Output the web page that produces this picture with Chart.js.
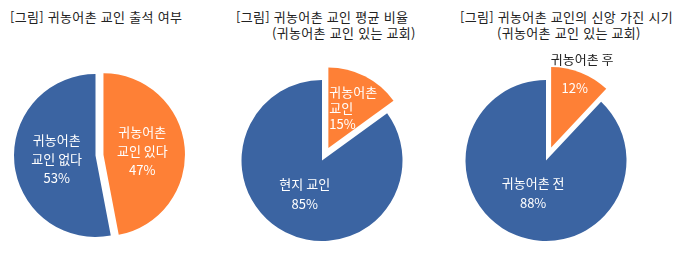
<!DOCTYPE html>
<html lang="ko">
<head>
<meta charset="utf-8">
<script src="https://cdn.jsdelivr.net/npm/chart.js@4/dist/chart.umd.min.js"></script>
<style>
  html, body { margin: 0; padding: 0; background: #fff; }
  body { width: 677px; height: 256px; position: relative; overflow: hidden; font-family: "Noto Sans CJK KR", sans-serif; }
  .title { position: absolute; font-size: 13px; line-height: 16px; color: #222; white-space: nowrap; letter-spacing: 0.3px; }
  .box { position: absolute; }
</style>
</head>
<body>
<div class="title" style="left:10px; top:9px">[그림] 귀농어촌 교인 출석 여부</div>
<div class="title" style="left:236px; top:9px">[그림] 귀농어촌 교인 평균 비율</div>
<div class="title" style="left:272px; top:25px">(귀농어촌 교인 있는 교회)</div>
<div class="title" style="left:460px; top:9px">[그림] 귀농어촌 교인의 신앙 가진 시기</div>
<div class="title" style="left:497px; top:25px">(귀농어촌 교인 있는 교회)</div>

<div class="box" style="left:0px; top:56px; width:191px; height:199px"><canvas id="attend"></canvas></div>
<div class="box" style="left:227px; top:54px; width:190px; height:213px"><canvas id="ratio"></canvas></div>
<div class="box" style="left:451px; top:54px; width:190px; height:213px"><canvas id="faith"></canvas></div>

<script>
// 차트 데이터
const attendCats = ["귀농어촌\n교인 있다", "귀농어촌\n교인 없다"];
const attendVals = [47, 53];

const ratioCats = ["귀농어촌\n교인", "현지 교인"];
const ratioVals = [15, 85];

const faithCats = ["귀농어촌 후", "귀농어촌 전"];
const faithVals = [12, 88];

const ORANGE = "#fe8036";
const BLUE = "#3b64a2";

// 조각을 반지름 그대로 바깥으로 밀어서 그림 (기본 offset은 반지름이 커짐)
const sliceShift = {
  id: "sliceShift",
  beforeDatasetDraw(chart, args, opts) {
    const ctx = chart.ctx;
    args.meta.data.forEach((arc, i) => {
      const s = opts.shift[i] || 0;
      const { startAngle, endAngle } = arc.getProps(["startAngle", "endAngle"], true);
      const mid = (startAngle + endAngle) / 2;
      ctx.save();
      ctx.translate(Math.cos(mid) * s, Math.sin(mid) * s);
      arc.draw(ctx);
      ctx.restore();
    });
    return false;
  }
};

// 조각 라벨 (이름 + 퍼센트)
const sliceLabels = {
  id: "sliceLabels",
  afterDatasetsDraw(chart, args, opts) {
    const ctx = chart.ctx;
    const meta = chart.getDatasetMeta(0);
    const names = chart.data.labels;
    const vals = chart.data.datasets[0].data;
    meta.data.forEach((arc, i) => {
      const o = opts.items[i];
      if (!o) return;
      const { x, y, startAngle, endAngle } = arc.getProps(["x", "y", "startAngle", "endAngle"], true);
      const mid = (startAngle + endAngle) / 2;
      ctx.save();
      ctx.font = opts.font;
      ctx.textBaseline = "middle";
      let lines = names[i].split("\n");
      if (o.nameR) {
        ctx.fillStyle = o.nameColor;
        ctx.textAlign = "center";
        ctx.fillText(names[i], x + Math.cos(mid) * o.nameR + (o.nameDx || 0), y + Math.sin(mid) * o.nameR);
        lines = [];
      }
      lines.push(vals[i] + "%");
      const cx = x + Math.cos(mid) * o.r + (o.dx || 0);
      const cy = y + Math.sin(mid) * o.r + (o.dy || 0);
      const w = Math.max(...lines.map(l => ctx.measureText(l).width));
      ctx.fillStyle = "#fff";
      ctx.textAlign = o.align || "center";
      const tx = o.align === "left" ? cx - w / 2 : cx;
      lines.forEach((l, k) => {
        ctx.fillText(l, tx, cy + (k - (lines.length - 1) / 2) * o.lh);
      });
      ctx.restore();
    });
  }
};

function pie(id, cats, vals, radius, shift, items) {
  return new Chart(document.getElementById(id), {
    type: "pie",
    data: {
      labels: cats,
      datasets: [{
        data: vals,
        backgroundColor: [ORANGE, BLUE],
        borderWidth: 0
      }]
    },
    options: {
      responsive: true,
      maintainAspectRatio: false,
      animation: false,
      events: [],
      radius: radius,
      layout: { padding: 0 },
      plugins: {
        legend: { display: false },
        tooltip: { enabled: false },
        sliceShift: { shift: shift },
        sliceLabels: { font: '13px "Noto Sans CJK KR", sans-serif', items: items }
      }
    },
    plugins: [sliceShift, sliceLabels]
  });
}

pie("attend", attendCats, attendVals, 81.5, [8, 0], [
  { r: 47, lh: 19 },
  { r: 39, lh: 19 }
]);

pie("ratio", ratioCats, ratioVals, 80.5, [14, 0], [
  { r: 60, lh: 16, align: "left", dx: 4, dy: 1 },
  { r: 38, lh: 20 }
]);

pie("faith", faithCats, faithVals, 80.5, [14, 0], [
  { r: 78, lh: 20, nameR: 109, nameDx: -4, nameColor: "#222" },
  { r: 35, lh: 20 }
]);
</script>
</body>
</html>
